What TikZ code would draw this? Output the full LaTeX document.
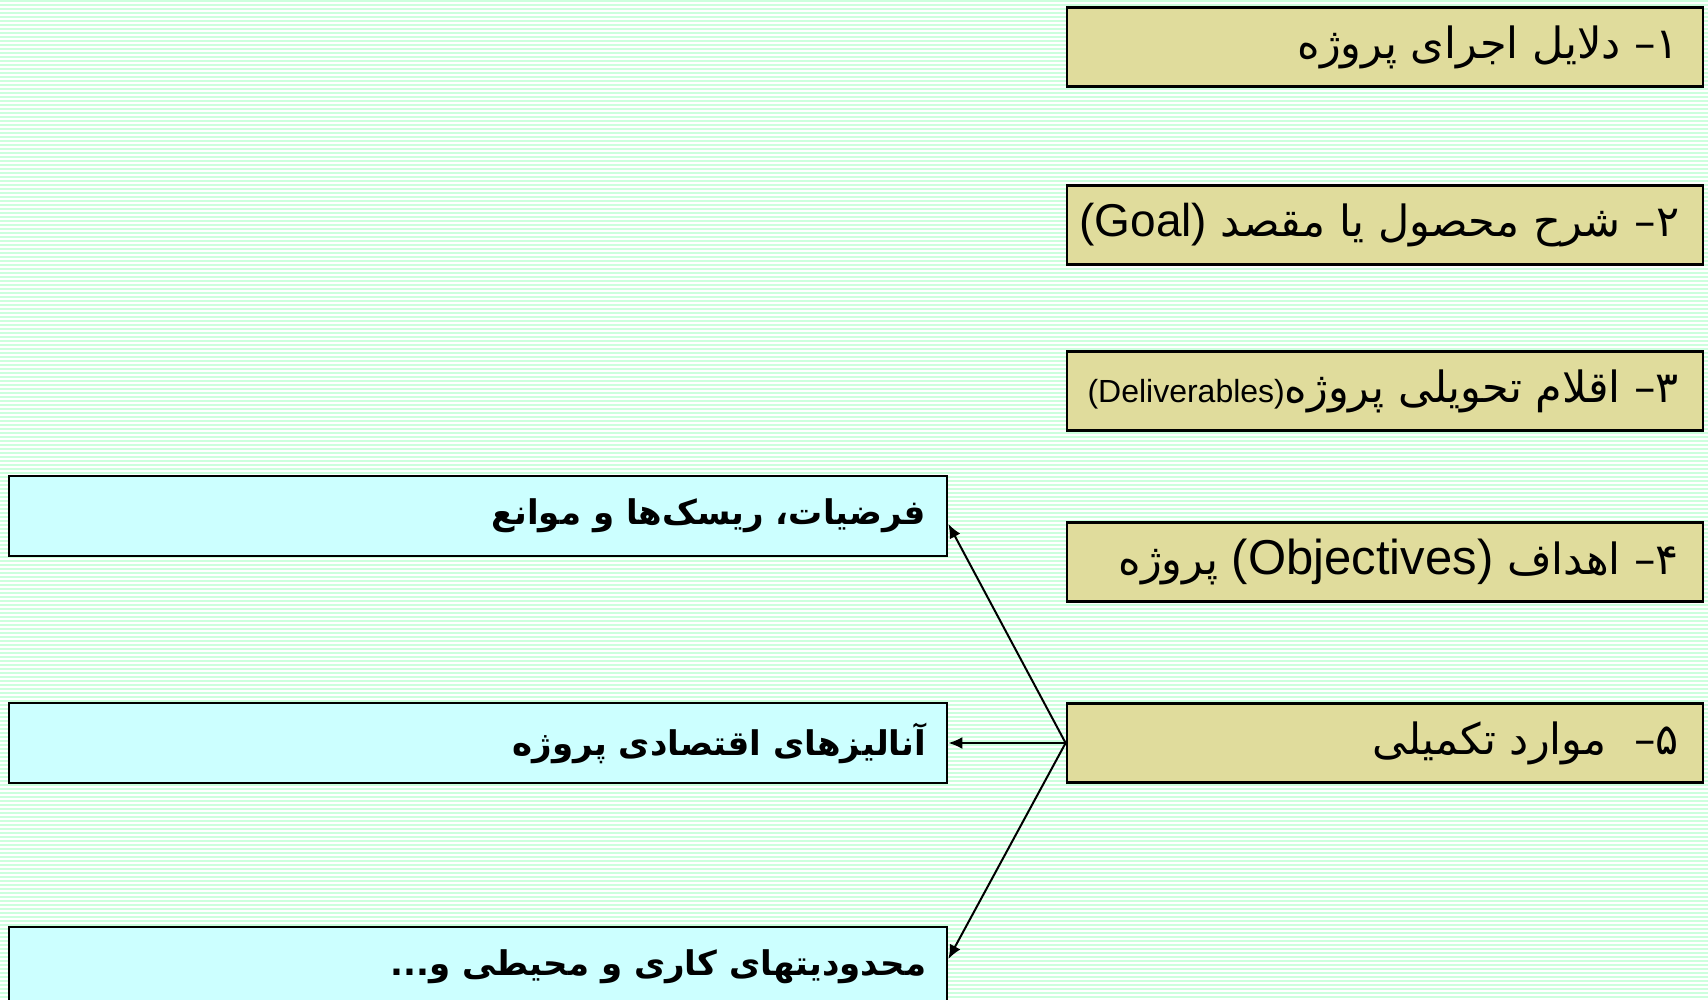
\documentclass[tikz,border=0pt]{standalone}
\usepackage{fontspec}
\usetikzlibrary{arrows.meta}
\TeXXeTstate=1
\newfontfamily\farsi[Script=Arabic]{DejaVu Sans}
\newfontfamily\latinsans{Liberation Sans}
\definecolor{stripegreen}{HTML}{CCFFDD}
\definecolor{khaki}{HTML}{E0DC9C}
\definecolor{paleblue}{HTML}{CCFFFF}
\newcommand\latinpart[2]{\beginL{\latinsans\fontsize{#1}{#1}\selectfont #2}\endL}
\begin{document}
\begin{tikzpicture}[x=0.5pt,y=-0.5pt,
  topicbox/.style={draw=black, line width=1.4pt, fill=khaki,
    minimum height=39.5pt, inner ysep=0pt, inner xsep=12pt,
    font=\farsi\fontsize{21.5}{25}\selectfont},
  extrabox/.style={draw=black, line width=1.4pt, fill=paleblue,
    minimum height=40pt, inner ysep=0pt, inner xsep=10.5pt,
    font=\farsi\bfseries\fontsize{17}{21}\selectfont},
  link/.style={line width=1pt, -{Latex[length=7pt,width=6pt]}}]
% striped backdrop
\useasboundingbox (0,0) rectangle (1708,1000);
\fill[white] (0,0) rectangle (1708,1000);
\foreach \i in {0,...,249} \fill[stripegreen] (0,4*\i) rectangle (1708,4*\i+2);

% main topics on the right (each line set flush right in a fixed-width box)
\node[topicbox] (b1) at (1385,47)  {\makebox[294pt][r]{\beginR ۱– دلایل اجرای پروژه\endR}};
\node[topicbox] (b2) at (1385,225) {\makebox[294pt][r]{\beginR ۲– شرح محصول یا مقصد \latinpart{23}{(Goal)}\endR}};
\node[topicbox] (b3) at (1385,391) {\makebox[294pt][r]{\beginR ۳– اقلام تحویلی پروژه\latinpart{16}{(Deliverables)}\endR}};
\node[topicbox] (b4) at (1385,562) {\makebox[294pt][r]{\beginR ۴– اهداف \latinpart{24.5}{(Objectives)}{} پروژه\endR}};
\node[topicbox] (b5) at (1385,743) {\makebox[294pt][r]{\beginR ۵–\ \ موارد تکمیلی\endR}};

% supplementary items on the left
\node[extrabox] (l1) at (478,516) {\makebox[448pt][r]{\beginR فرضیات، ریسک^^^^200cها و موانع\endR}};
\node[extrabox] (l2) at (478,743) {\makebox[448pt][r]{\beginR آنالیزهای اقتصادی پروژه\endR}};
\node[extrabox] (l3) at (478,967) {\makebox[448pt][r]{\beginR محدودیتهای کاری و محیطی و...\endR}};

% connectors
\draw[link] (b5.west) -- ([yshift=-4pt]l1.east);
\draw[link] (b5.west) -- (l2.east);
\draw[link] (b5.west) -- ([yshift=4pt]l3.east);
\end{tikzpicture}
\end{document}
